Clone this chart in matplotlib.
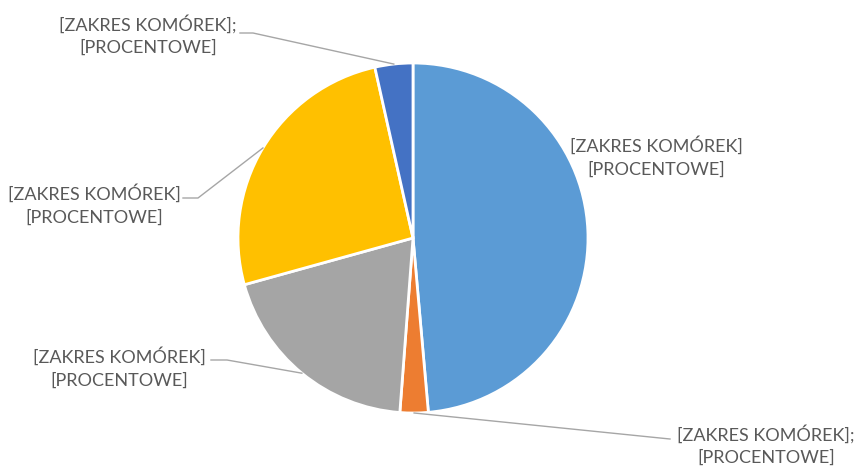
import numpy as np
import matplotlib.pyplot as plt

# shares (clockwise from 12 o'clock)
values = [48.6, 2.6, 19.5, 25.8, 3.5]
colors = ['#5B9BD5', '#ED7D31', '#A5A5A5', '#FFC000', '#4472C4']
labels = ['[ZAKRES KOMÓREK]\n[PROCENTOWE]',
          '[ZAKRES KOMÓREK];\n[PROCENTOWE]',
          '[ZAKRES KOMÓREK]\n[PROCENTOWE]',
          '[ZAKRES KOMÓREK]\n[PROCENTOWE]',
          '[ZAKRES KOMÓREK];\n[PROCENTOWE]']

W, H = 861, 468
CX, CY, R = 413, 238, 175


def px(x, y):
    # pixel position -> data units (pie radius = 1)
    return ((x - CX) / R, (CY - y) / R)


# label centres and leader elbows, in pixels
label_pos = [(656, 157), (766, 445), (119, 368), (94, 205), (148, 35)]
elbows = [None,
          [(660, 438), (670, 439)],
          [(227, 360), (211, 360)],
          [(198, 198), (183, 198)],
          [(253, 33), (240, 33)]]

fig = plt.figure(figsize=(W / 100, H / 100), dpi=100)
ax = fig.add_axes([0, 0, 1, 1])
ax.set_aspect('equal')
ax.axis('off')

wedges, _ = ax.pie(values, colors=colors, startangle=90, counterclock=False,
                   radius=1, center=(0, 0),
                   wedgeprops=dict(edgecolor='white', linewidth=2))
ax.set_xlim(-CX / R, (W - CX) / R)
ax.set_ylim(-(H - CY) / R, CY / R)

for w, lab, pos, elb in zip(wedges, labels, label_pos, elbows):
    tx, ty = px(*pos)
    ax.text(tx, ty, lab, ha='center', va='center', multialignment='center',
            fontsize=13, color='#595959', linespacing=1.45,
            family=['Lato', 'DejaVu Sans'])
    if elb is None:
        continue
    mid = np.deg2rad((w.theta1 + w.theta2) / 2)
    ax_, ay_ = np.cos(mid), np.sin(mid)
    pts = [(ax_, ay_)] + [px(*p) for p in elb]
    xs, ys = zip(*pts)
    ax.plot(xs, ys, color='#A6A6A6', lw=1)

fig.savefig('out.png', dpi=100)
